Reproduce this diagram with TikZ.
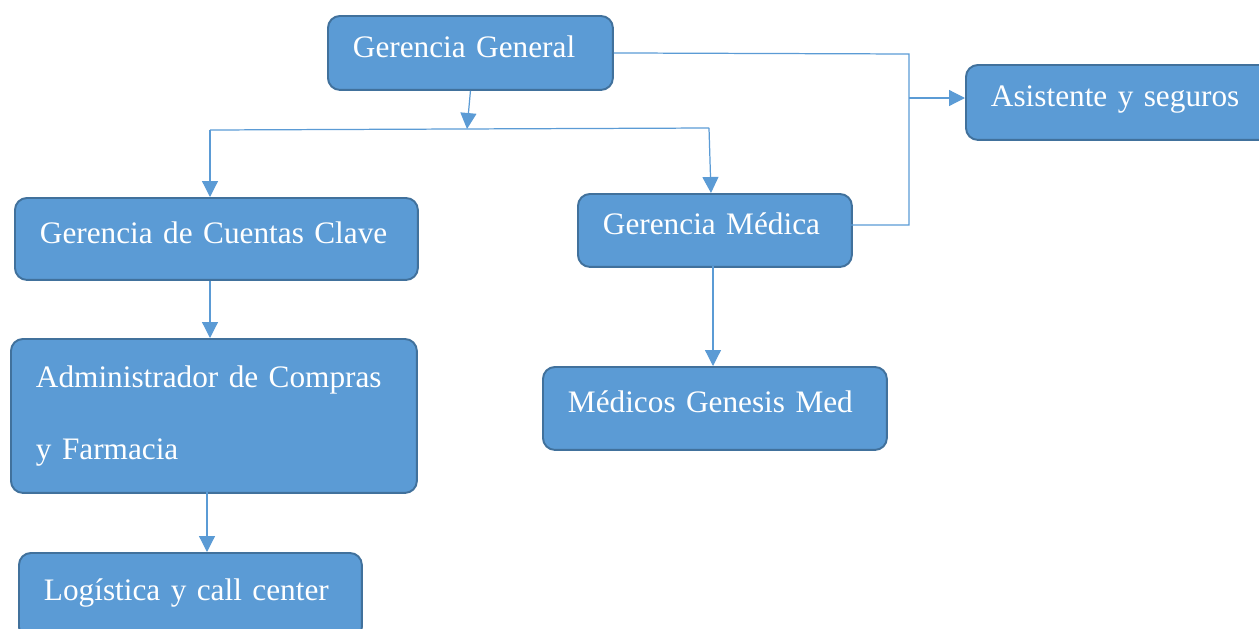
\documentclass[tikz,border=0pt]{standalone}
\usepackage{fontspec}
\setmainfont{Liberation Serif}
\usetikzlibrary{arrows.meta}

\definecolor{boxfill}{HTML}{5B9BD5}
\definecolor{boxline}{HTML}{41719C}
\definecolor{linkline}{HTML}{5B9BD5}

\tikzset{
  unit/.style={draw=boxline, line width=1.1pt, fill=boxfill, text=white,
               rounded corners=0.24cm, anchor=north west, align=left,
               inner xsep=0.5cm, inner ysep=0pt,
               font=\fontsize{17.8}{22}\selectfont},
  oneline/.style={unit, text depth=0.26cm},
  link/.style={draw=linkline, line width=0.7pt},
  tolink/.style={link, -{Triangle[length=0.32cm,width=0.32cm]}}
}

\begin{document}
\begin{tikzpicture}[x=0.02cm,y=-0.02cm]
        \useasboundingbox (0,0) rectangle (1259,629);
        \clip (0,0) rectangle (1259,629);

        % boxes
        \node[oneline, text width=4.7cm, minimum height=1.48cm] (gg) at (327,15) {Gerencia General};
        \node[oneline, text width=5.2cm, minimum height=1.5cm] (as) at (965,64) {Asistente y seguros};
        \node[oneline, text width=7.06cm, minimum height=1.64cm] (gcc) at (14,197) {Gerencia de Cuentas Clave};
        \node[oneline, text width=4.48cm, minimum height=1.46cm] (gm) at (577,193) {Gerencia Médica};
        \node[unit, text width=7.12cm, minimum height=3.08cm,
              font=\fontsize{17.8}{41}\selectfont] (adm) at (10,338) {Administrador de Compras\\y Farmacia};
        \node[oneline, text width=5.88cm, minimum height=1.66cm] (mgm) at (542,366) {Médicos Genesis Med};
        \node[oneline, text width=5.86cm, minimum height=1.72cm] (lcc) at (18,552) {Logística y call center};

        % bus under gerencia general
        \coordinate (bus) at (467,129);
        \coordinate (busl) at (210,130);
        \coordinate (busr) at (709,128);
        \draw[tolink] (gg.south) -- (bus);
        \draw[link] (busl) -- (busr);
        \draw[tolink] (busl) -- (busl |- gcc.north);
        \draw[tolink] (busr) -- (711,193);

        % side line to asistente
        \coordinate (side) at (909,54);
        \coordinate (gmr) at (851,225);
        \draw[link] (gg.east) -- (side) -- (side |- gmr) -- (gmr);
        \draw[tolink] (side |- 0,98) -- (as.west |- 0,98);

        % lower levels
        \draw[tolink] (gcc.south -| busl) -- (busl |- adm.north);
        \draw[tolink] (207,492) -- (207,552);
        \draw[tolink] (713,266) -- (713,366);
    \end{tikzpicture}
\end{document}
